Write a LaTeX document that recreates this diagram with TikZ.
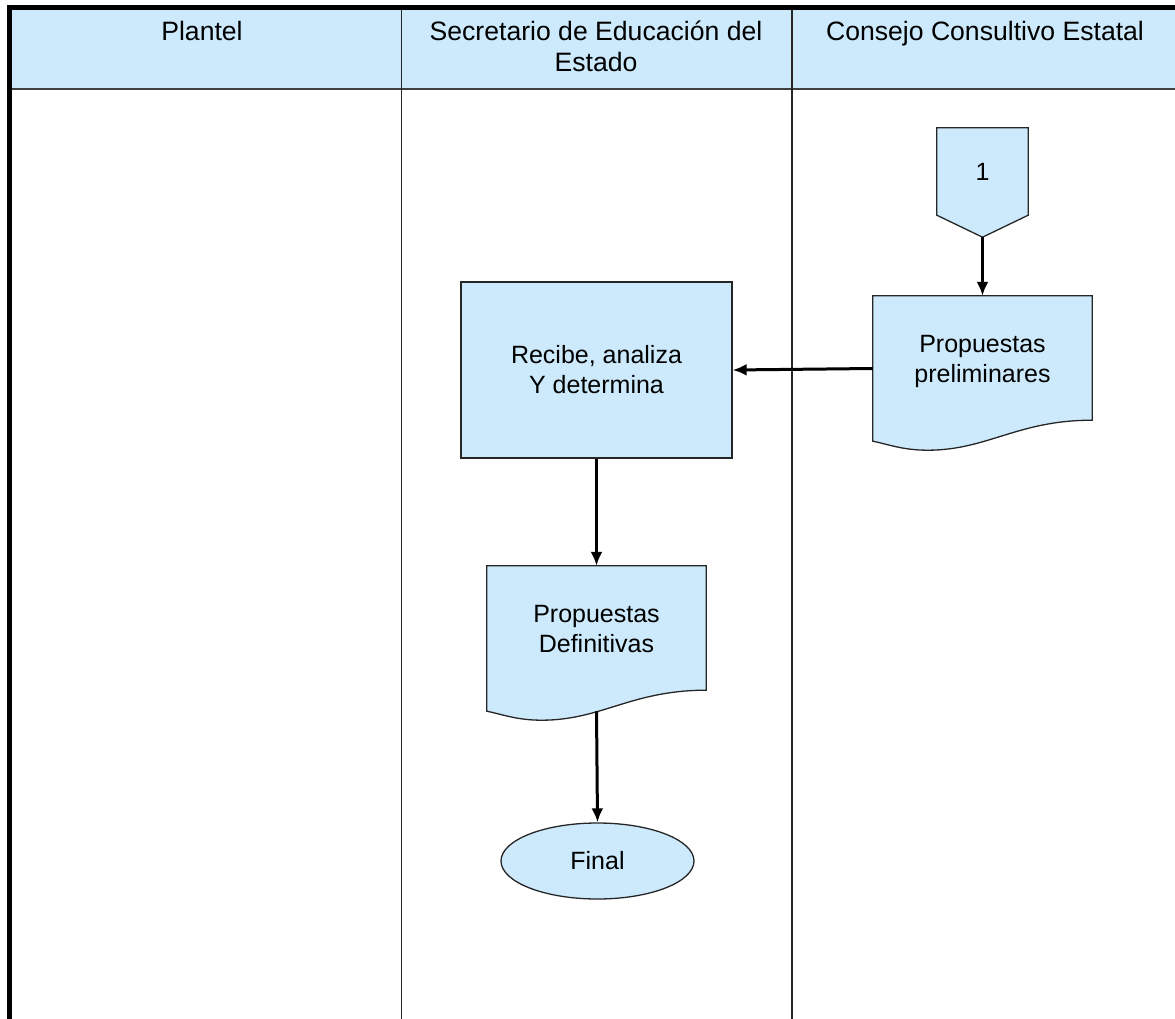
\documentclass[tikz,border=0pt]{standalone}
\usepackage{fontspec}
\setmainfont{Liberation Sans}
\usetikzlibrary{arrows.meta,shapes.geometric,calc,backgrounds}
\tikzset{>={Latex[length=14pt,width=12pt]}}
\definecolor{laneblue}{RGB}{204,234,252}
\newcommand{\headfont}{\fontsize{26.6}{31}\selectfont}
\newcommand{\boxfont}{\fontsize{25}{30}\selectfont}
\newcommand{\docshape}[1]{%
  \draw[outline] (#1.south west) -- (#1.north west) -- (#1.north east)
    -- ([yshift=21pt]#1.south east)
    .. controls +(-75,0) and +(60,0) .. ([yshift=-9pt]$(#1.south west)!0.25!(#1.south east)$)
    .. controls +(-25,0) and +(15,3) .. (#1.south west) -- cycle;}
\newcommand{\offpage}[1]{%
  \draw[outline] (#1.north west) -- (#1.north east) -- (#1.south east)
    -- ([yshift=-22pt]#1.south) -- (#1.south west) -- cycle;}

\begin{document}
\begin{tikzpicture}[x=1pt,y=-1pt,
    outline/.style={draw=black!85,line width=1.3pt,fill=laneblue},
    lane/.style={font=\headfont,align=center,anchor=north,inner sep=0pt},
    box/.style={font=\boxfont,align=center,inner sep=0pt},
    doc/.style={box,minimum width=219pt,minimum height=145pt,text depth=20pt},
    flow/.style={->,line width=3pt}]
  \useasboundingbox (0,0) rectangle (1175,1019);
  % header and lanes
  \fill[laneblue] (12,10) rectangle (1175,88);
  \draw[line width=2.5pt,black!75] (12,89) -- (1175,89);
  \draw[line width=1.5pt,black!85] (401.5,10) -- (401.5,1019) (792,10) -- (792,1019);
  \draw[line width=5pt] (7,7.5) -- (1175,7.5);
  \draw[line width=5pt] (9.5,5) -- (9.5,1019);
  \node[lane] (plantel) at (202,19) {\strut Plantel};
  \node[lane] (secretario) at (596,19) {\strut Secretario de Educación del\\Estado};
  \node[lane] (consejo) at (985,19) {\strut Consejo Consultivo Estatal};

  % flow
  \node[box,minimum width=91pt,minimum height=87pt] (one) at (982.5,171.5) {1};
  \coordinate (onetip) at ([yshift=-22pt]one.south);
  \node[doc] (pre) at (982.5,368.5) {Propuestas\\preliminares};
  \node[box,outline,minimum width=271pt,minimum height=176pt] (rec) at (596.5,370) {Recibe, analiza\\Y determina};
  \node[doc] (def) at (596.5,638.5) {Propuestas\\Definitivas};
  \node[box,outline,ellipse,minimum width=193pt,minimum height=76pt] (fin) at (597.5,861) {Final};
  \begin{scope}[on background layer]
    \offpage{one}
    \docshape{pre}
    \docshape{def}
  \end{scope}

  \draw[flow] (onetip) -- (pre.north);
  \draw[flow] (pre.west) -- (rec.east);
  \draw[flow] (rec.south) -- (def.north);
  \draw[flow] (def.south) -- (fin.north);
\end{tikzpicture}
\end{document}
